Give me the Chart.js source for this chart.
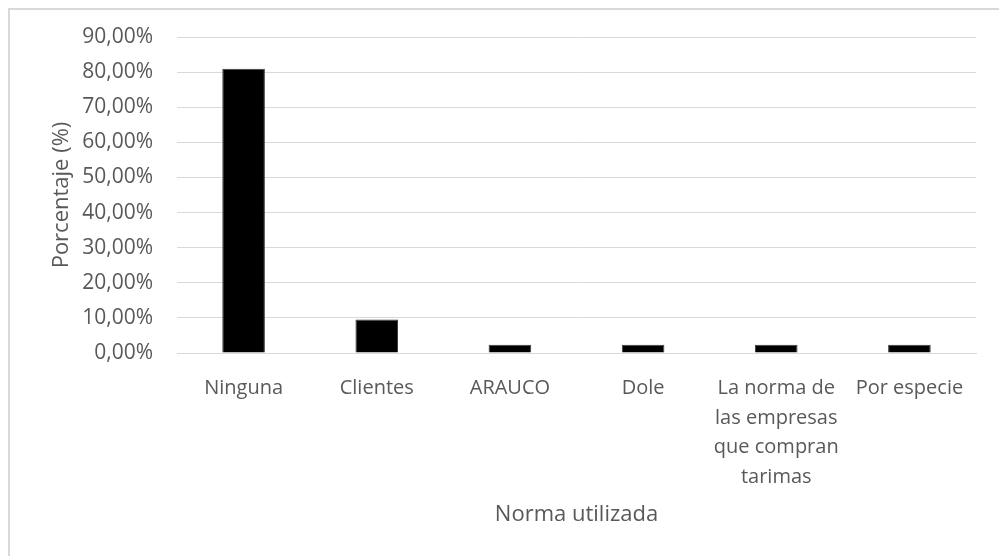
<!DOCTYPE html>
<html>
<head>
<meta charset="utf-8">
<script src="https://cdn.jsdelivr.net/npm/chart.js@4/dist/chart.umd.min.js"></script>
<style>
  body { margin: 0; background: #fff; }
  #frame {
    position: absolute; left: 8px; top: 8px; width: 1100px; height: 700px;
    border-left: 2px solid #d9d9d9; border-top: 2px solid #d9d9d9;
  }
  #chart { position: absolute; left: 0; top: 0; }
</style>
</head>
<body>
<div id="frame"></div>
<canvas id="chart" width="999" height="556"></canvas>
<script>
const categories = [
  "Ninguna",
  "Clientes",
  "ARAUCO",
  "Dole",
  ["La norma de", "las empresas", "que compran", "tarimas"],
  "Por especie",
];
const percentages = [80.95, 9.52, 2.38, 2.38, 2.38, 2.38];
const yMin = 0;
const yMax = 90;
const yStep = 10;

const textColor = "#595959";
const gridColor = "#d9d9d9";

function formatPercent(value) {
  return value.toFixed(2).replace(".", ",") + "%";
}

Chart.defaults.font.family = "'Open Sans', sans-serif";

const ctx = document.getElementById("chart").getContext("2d");
new Chart(ctx, {
  type: "bar",
  data: {
    labels: categories,
    datasets: [
      {
        label: "Porcentaje",
        data: percentages,
        backgroundColor: "#000000",
        borderColor: "#3a3a3a",
        borderWidth: 1,
        categoryPercentage: 1,
        barPercentage: 0.32,
      },
    ],
  },
  options: {
    responsive: false,
    animation: false,
    layout: {
      padding: { left: 0, top: 37, right: 23, bottom: 0 },
    },
    plugins: {
      legend: { display: false },
      tooltip: { enabled: false },
    },
    scales: {
      x: {
        afterFit: (scale) => {
          scale.height = 203;
        },
        grid: { display: false },
        border: { display: true, color: gridColor, width: 1 },
        ticks: {
          color: textColor,
          font: { size: 20, lineHeight: 1.47 },
          padding: 13,
          maxRotation: 0,
          minRotation: 0,
          autoSkip: false,
        },
        title: {
          display: true,
          text: "Norma utilizada",
          color: textColor,
          font: { size: 22, lineHeight: 1.2 },
          padding: { top: 0, bottom: 28 },
        },
      },
      y: {
        min: yMin,
        max: yMax,
        afterFit: (scale) => {
          scale.width = 177;
        },
        grid: { color: gridColor, lineWidth: 1, drawTicks: false },
        border: { display: false },
        ticks: {
          stepSize: yStep,
          color: textColor,
          font: { size: 21 },
          padding: 24,
          callback: (value) => formatPercent(value),
        },
        title: {
          display: true,
          text: "Porcentaje (%)",
          color: textColor,
          font: { size: 22, lineHeight: 1.2 },
          padding: { top: 49, bottom: 0 },
        },
      },
    },
  },
});
</script>
</body>
</html>
